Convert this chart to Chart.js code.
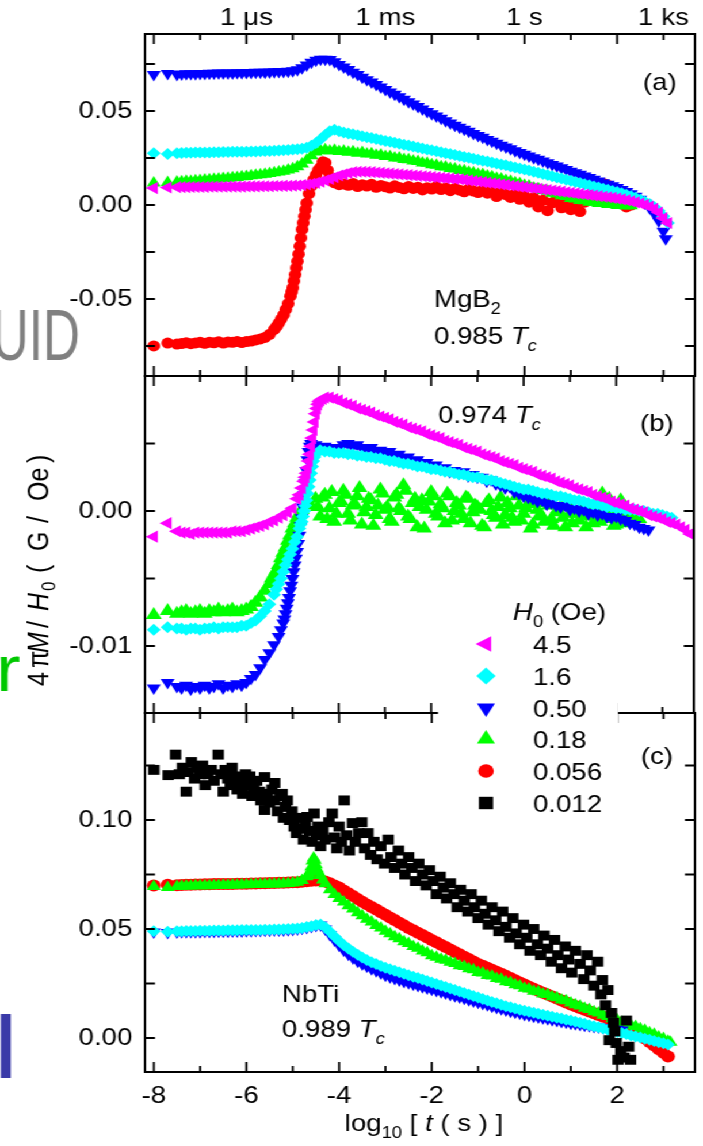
<!DOCTYPE html>
<html><head><meta charset="utf-8">
<script src="https://cdn.jsdelivr.net/npm/chart.js@4.4.1/dist/chart.umd.min.js"></script>
<style>
html,body{margin:0;padding:0;background:#fff;overflow:hidden;width:703px;height:1146px;}
#wrap{position:absolute;left:0;top:0;width:611px;height:1146px;transform:scaleX(1.150573);transform-origin:0 0;}
#wrap canvas{position:absolute;left:0;top:0;}
</style></head>
<body><div id="wrap">
<canvas id="ca" width="611" height="1146"></canvas>
<canvas id="cb" width="611" height="1146"></canvas>
<canvas id="cc" width="611" height="1146"></canvas>
</div>
<script>
// ---------- data ----------
const G = [-8.0,-7.7,-7.5,-7.4,-7.3,-7.2,-7.1,-7.0,
 -6.9,-6.8,-6.7,-6.6,-6.5,-6.4,-6.3,-6.2,-6.1,-6.0,
 -5.9,-5.8,-5.7,-5.6,-5.5,-5.4,-5.3,-5.2,-5.1,-5.0,
 -4.9,-4.8,-4.7,-4.6,-4.5,-4.4,-4.3,-4.2,-4.1,-4.0,
 -3.9,-3.8,-3.7,-3.6,-3.5,-3.4,-3.3,-3.2,-3.1,-3.0,
 -2.9,-2.8,-2.7,-2.6,-2.5,-2.4,-2.3,-2.2,-2.1,-2.0,
 -1.9,-1.8,-1.7,-1.6,-1.5,-1.4,-1.3,-1.2,-1.1,-1.0,
 -0.9,-0.8,-0.7,-0.6,-0.5,-0.4,-0.3,-0.2,-0.1,0.0,
 0.1,0.2,0.3,0.4,0.5,0.6,0.7,0.8,0.9,1.0,
 1.1,1.2,1.3,1.4,1.5,1.6,1.7,1.8,1.9,2.0,
 2.1,2.2,2.3,2.4,2.5,2.6,2.7,2.8,2.9,3.0,
 3.1,3.2,3.3,3.4,3.5,3.6];

const fieldLabels = ['4.5','1.6','0.50','0.18','0.056','0.012'];

// Panel (a) MgB2, 0.985 Tc
const magentaA = [0.0090,0.0093,0.0095,0.0095,0.0095,0.0096,0.0096,0.0096,
 0.0096,0.0097,0.0097,0.0097,0.0097,0.0098,0.0098,0.0098,0.0098,0.0099,
 0.0099,0.0099,0.0100,0.0100,0.0100,0.0101,0.0101,0.0102,0.0102,0.0103,
 0.0104,0.0106,0.0109,0.0113,0.0118,0.0124,0.0131,0.0139,0.0148,0.0157,
 0.0163,0.0170,0.0175,0.0177,0.0177,0.0176,0.0175,0.0173,0.0171,0.0169,
 0.0167,0.0165,0.0163,0.0161,0.0159,0.0157,0.0155,0.0153,0.0151,0.0149,
 0.0147,0.0145,0.0143,0.0141,0.0139,0.0137,0.0134,0.0131,0.0128,0.0125,
 0.0122,0.0119,0.0116,0.0113,0.0110,0.0107,0.0104,0.0101,0.0098,0.0095,
 0.0092,0.0089,0.0086,0.0083,0.0080,0.0077,0.0074,0.0071,0.0068,0.0065,
 0.0062,0.0059,0.0056,0.0053,0.0050,0.0047,0.0044,0.0041,0.0038,0.0034,
 0.0030,0.0025,0.0020,0.0014,0.0008,0.0001,-0.0008,-0.0020,-0.0040,-0.0070,
 -0.0096];
const cyanA = [0.0275,0.0272,0.0276,0.0277,0.0278,0.0278,0.0279,0.0279,
 0.0280,0.0280,0.0281,0.0281,0.0282,0.0282,0.0283,0.0283,0.0284,0.0284,
 0.0285,0.0285,0.0286,0.0287,0.0288,0.0289,0.0290,0.0291,0.0293,0.0295,
 0.0297,0.0300,0.0305,0.0315,0.0330,0.0350,0.0372,0.0392,0.0400,0.0393,
 0.0386,0.0381,0.0376,0.0371,0.0366,0.0361,0.0356,0.0351,0.0346,0.0341,
 0.0336,0.0331,0.0326,0.0321,0.0316,0.0311,0.0306,0.0301,0.0296,0.0291,
 0.0286,0.0281,0.0276,0.0271,0.0266,0.0261,0.0256,0.0251,0.0246,0.0241,
 0.0236,0.0231,0.0226,0.0221,0.0216,0.0211,0.0205,0.0200,0.0194,0.0189,
 0.0183,0.0177,0.0171,0.0165,0.0159,0.0153,0.0147,0.0141,0.0135,0.0129,
 0.0123,0.0117,0.0111,0.0105,0.0099,0.0093,0.0087,0.0081,0.0075,0.0069,
 0.0062,0.0055,0.0047,0.0038,0.0028,0.0017,0.0005,-0.0010,-0.0030,-0.0060,
 -0.0096];
const blueA = [0.0695,0.0700,0.0695,0.0697,0.0698,0.0699,0.0699,0.0700,
 0.0700,0.0701,0.0701,0.0702,0.0702,0.0703,0.0703,0.0704,0.0704,0.0705,
 0.0705,0.0706,0.0707,0.0707,0.0708,0.0709,0.0710,0.0711,0.0712,0.0714,
 0.0720,0.0730,0.0745,0.0760,0.0770,0.0775,0.0776,0.0774,0.0762,0.0748,
 0.0734,0.0721,0.0707,0.0694,0.0680,0.0667,0.0654,0.0641,0.0628,0.0615,
 0.0602,0.0589,0.0576,0.0563,0.0550,0.0537,0.0524,0.0511,0.0498,0.0485,
 0.0473,0.0461,0.0449,0.0437,0.0425,0.0414,0.0403,0.0392,0.0381,0.0370,
 0.0360,0.0349,0.0339,0.0328,0.0318,0.0308,0.0299,0.0289,0.0280,0.0270,
 0.0261,0.0252,0.0243,0.0234,0.0225,0.0216,0.0207,0.0198,0.0189,0.0180,
 0.0171,0.0163,0.0154,0.0146,0.0137,0.0128,0.0119,0.0111,0.0102,0.0093,
 0.0083,0.0072,0.0060,0.0046,0.0030,0.0010,-0.0015,-0.0045,-0.0085,-0.0140];
const blueAExtra = [[3.05,-0.0180]];
const greenA = [0.0117,0.0120,0.0122,0.0124,0.0126,0.0127,0.0129,0.0131,
 0.0133,0.0135,0.0137,0.0139,0.0141,0.0143,0.0145,0.0147,0.0150,0.0152,
 0.0155,0.0158,0.0161,0.0164,0.0167,0.0171,0.0175,0.0180,0.0186,0.0193,
 0.0203,0.0218,0.0238,0.0262,0.0282,0.0290,0.0294,0.0288,0.0291,0.0285,
 0.0287,0.0281,0.0284,0.0276,0.0279,0.0271,0.0273,0.0265,0.0266,0.0258,
 0.0258,0.0250,0.0250,0.0242,0.0241,0.0234,0.0232,0.0224,0.0222,0.0214,
 0.0212,0.0204,0.0202,0.0194,0.0192,0.0184,0.0182,0.0174,0.0172,0.0164,
 0.0162,0.0154,0.0151,0.0142,0.0139,0.0130,0.0127,0.0118,0.0115,0.0105,
 0.0101,0.0091,0.0087,0.0077,0.0073,0.0063,0.0059,0.0049,0.0045,0.0035,
 0.0032,0.0024,0.0022,0.0015,0.0014,0.0008,0.0008,0.0002,0.0003,-0.0002,
 0.0000,-0.0005,-0.0004];
const redA = [-0.0750,-0.0735,-0.0740,-0.0737,-0.0733,-0.0738,-0.0734,-0.0731,
 -0.0736,-0.0730,-0.0733,-0.0728,-0.0735,-0.0729,-0.0731,-0.0726,-0.0732,-0.0727,
 -0.0724,-0.0718,-0.0713,-0.0705,-0.0688,-0.0662,-0.0628,-0.0585,-0.0525,-0.0440,
 -0.0300,-0.0130,0.0010,0.0100,0.0160,0.0200,0.0225,0.0150,0.0118,0.0108,
 0.0112,0.0105,0.0115,0.0098,0.0108,0.0101,0.0110,0.0094,0.0104,0.0097,
 0.0090,0.0102,0.0093,0.0086,0.0099,0.0088,0.0095,0.0080,0.0092,0.0085,
 0.0098,0.0082,0.0090,0.0076,0.0088,0.0079,0.0070,0.0086,0.0074,0.0066,
 0.0080,0.0063,0.0072,0.0045,0.0068,0.0055,0.0040,0.0060,0.0030,0.0048,
 0.0015,0.0038,-0.0010,0.0025,-0.0030,0.0012,0.0030,-0.0015,0.0020,-0.0025,
 0.0008,-0.0035,0.0015,0.0030,0.0060,0.0095,0.0115,0.0105,0.0080,0.0045,
 0.0020,-0.0010,0.0000];
const redAExtra = [[-5.35,-0.0646],[-5.25,-0.0607],[-5.15,-0.0556],[-5.05,-0.0485],[-5.025,-0.0462],
 [-4.975,-0.0405],[-4.95,-0.0370],[-4.925,-0.0335],[-4.875,-0.0262],[-4.85,-0.0220],[-4.825,-0.0175],
 [-4.775,-0.0095],[-4.75,-0.0060],[-4.725,-0.0025],[-4.65,0.0060],[-4.55,0.0135],[-4.45,0.0185],
 [-4.35,0.0230],[-4.25,0.0185]];

// Panel (b) MgB2, 0.974 Tc
const magentaB = [-0.0019,-0.0009,-0.0015,-0.0016,-0.0016,-0.0017,-0.0016,-0.0016,
 -0.0016,-0.0016,-0.0016,-0.0016,-0.0016,-0.0016,-0.0015,-0.0015,-0.0015,-0.0014,
 -0.0013,-0.0012,-0.0011,-0.0010,-0.0008,-0.0007,-0.0005,-0.0003,-0.0001,0.0002,
 0.0009,0.0017,0.0028,0.0048,0.0072,0.0082,0.0084,0.0084,0.0083,0.0082,
 0.0080,0.0079,0.0078,0.0076,0.0075,0.0074,0.0073,0.0071,0.0070,0.0069,
 0.0068,0.0066,0.0065,0.0064,0.0062,0.0061,0.0060,0.0059,0.0057,0.0056,
 0.0055,0.0054,0.0052,0.0051,0.0050,0.0049,0.0047,0.0046,0.0045,0.0044,
 0.0042,0.0041,0.0040,0.0039,0.0037,0.0036,0.0035,0.0034,0.0032,0.0031,
 0.0030,0.0029,0.0027,0.0026,0.0025,0.0024,0.0022,0.0021,0.0020,0.0019,
 0.0017,0.0016,0.0015,0.0014,0.0012,0.0011,0.0010,0.0009,0.0007,0.0006,
 0.0005,0.0004,0.0002,0.0001,0.0000,-0.0001,-0.0003,-0.0004,-0.0005,-0.0006,
 -0.0008,-0.0009,-0.0010,-0.0012,-0.0014,-0.0017];
const magentaBExtra = [[-4.85,0.0012],[-4.75,0.0022],[-4.725,0.0025],[-4.675,0.0032],[-4.65,0.0037],
 [-4.625,0.0042],[-4.575,0.0054],[-4.55,0.0060],[-4.525,0.0066],[-4.475,0.0076],[-4.45,0.0079],
 [-4.425,0.0081],[-4.35,0.0083]];
const cyanB = [-0.0088,-0.0086,-0.0087,-0.0087,-0.0088,-0.0087,-0.0087,-0.0088,
 -0.0087,-0.0087,-0.0086,-0.0087,-0.0086,-0.0086,-0.0086,-0.0086,-0.0085,-0.0085,
 -0.0083,-0.0081,-0.0078,-0.0074,-0.0069,-0.0062,-0.0054,-0.0045,-0.0036,-0.0028,
 -0.0019,-0.0008,0.0008,0.0028,0.0042,0.0045,0.0044,0.0044,0.0043,0.0043,
 0.0043,0.0042,0.0042,0.0041,0.0041,0.0040,0.0040,0.0039,0.0039,0.0038,
 0.0037,0.0037,0.0036,0.0035,0.0035,0.0034,0.0033,0.0033,0.0032,0.0031,
 0.0031,0.0030,0.0029,0.0029,0.0028,0.0027,0.0027,0.0026,0.0025,0.0025,
 0.0024,0.0023,0.0023,0.0022,0.0021,0.0020,0.0019,0.0018,0.0017,0.0016,
 0.0016,0.0015,0.0014,0.0013,0.0013,0.0012,0.0011,0.0011,0.0010,0.0009,
 0.0008,0.0008,0.0007,0.0006,0.0005,0.0005,0.0004,0.0003,0.0003,0.0002,
 0.0002,0.0001,0.0001,0.0001,0.0000,0.0000,-0.0001,-0.0002,-0.0002,-0.0003,
 -0.0004,-0.0005];
const cyanBExtra = [[-5.35,-0.0058],[-5.25,-0.0050],[-5.15,-0.0040],[-5.05,-0.0032],[-4.95,-0.0023],
 [-4.85,-0.0013],[-4.825,-0.0010],[-4.775,-0.0004],[-4.75,0.0000],[-4.725,0.0004],[-4.675,0.0013],
 [-4.65,0.0018],[-4.625,0.0023],[-4.575,0.0033],[-4.55,0.0037],[-4.525,0.0040]];
const blueB = [-0.0131,-0.0127,-0.0130,-0.0131,-0.0129,-0.0132,-0.0130,-0.0131,
 -0.0129,-0.0131,-0.0130,-0.0128,-0.0131,-0.0129,-0.0130,-0.0128,-0.0129,-0.0127,
 -0.0124,-0.0121,-0.0116,-0.0110,-0.0105,-0.0099,-0.0093,-0.0083,-0.0068,-0.0050,
 -0.0030,-0.0005,0.0030,0.0050,0.0049,0.0046,0.0048,0.0045,0.0047,0.0046,
 0.0049,0.0050,0.0048,0.0049,0.0047,0.0046,0.0047,0.0044,0.0045,0.0043,
 0.0044,0.0041,0.0042,0.0039,0.0040,0.0037,0.0038,0.0035,0.0036,0.0033,
 0.0034,0.0031,0.0032,0.0029,0.0030,0.0028,0.0029,0.0026,0.0027,0.0025,
 0.0025,0.0022,0.0023,0.0020,0.0019,0.0017,0.0018,0.0014,0.0013,0.0011,
 0.0010,0.0009,0.0007,0.0008,0.0005,0.0006,0.0004,0.0003,0.0004,0.0001,
 0.0002,0.0000,0.0001,-0.0002,-0.0001,-0.0003,-0.0002,-0.0004,-0.0005,-0.0004,
 -0.0006,-0.0007,-0.0009,-0.0010,-0.0012,-0.0013,-0.0014];
const blueBExtra = [[-5.25,-0.0088],[-5.175,-0.0080],[-5.15,-0.0076],[-5.125,-0.0072],[-5.075,-0.0064],
 [-5.05,-0.0059],[-5.025,-0.0055],[-4.975,-0.0045],[-4.95,-0.0040],[-4.925,-0.0035],[-4.875,-0.0024],
 [-4.85,-0.0018],[-4.825,-0.0011],[-4.775,0.0003],[-4.75,0.0012],[-4.725,0.0021],[-4.675,0.0038],
 [-4.65,0.0044],[-4.625,0.0048]];
const greenB = [-0.0077,-0.0074,-0.0076,-0.0075,-0.0074,-0.0076,-0.0075,-0.0074,
 -0.0076,-0.0074,-0.0075,-0.0073,-0.0075,-0.0074,-0.0073,-0.0075,-0.0074,-0.0073,
 -0.0071,-0.0068,-0.0064,-0.0059,-0.0054,-0.0047,-0.0040,-0.0031,-0.0022,-0.0013,
 -0.0005,0.0001,0.0005,0.0004,0.0009,-0.0004,0.0012,0.0002,-0.0008,0.0006,
 0.0015,-0.0002,0.0004,0.0011,-0.0010,0.0003,0.0008,-0.0003,0.0016,0.0001,
 -0.0006,0.0010,0.0002,0.0019,-0.0004,0.0006,-0.0012,0.0008,0.0001,0.0014,
 -0.0002,0.0005,-0.0009,0.0011,0.0000,0.0004,-0.0006,0.0009,-0.0001,0.0003,
 -0.0011,0.0006,0.0000,-0.0005,0.0010,-0.0003,0.0002,-0.0008,0.0004,-0.0002,
 0.0005,-0.0010,0.0001,-0.0004,0.0007,-0.0006,-0.0001,0.0003,-0.0012,-0.0002,
 0.0001,-0.0007,-0.0003,0.0004,-0.0009,-0.0004,0.0013,-0.0006,-0.0002,-0.0010,
 0.0008,-0.0005,-0.0008,-0.0003,-0.0006];
const greenBExtra = [[-5.45,-0.0050],[-5.35,-0.0044],[-5.25,-0.0035],[-5.15,-0.0027],[-5.05,-0.0018],
 [-4.95,-0.0009],[-4.85,-0.0002]];
const greenBMid = [[-4.45,0.0003],[-4.35,0.0010],[-4.25,-0.0006],[-4.15,0.0014],[-4.05,-0.0002],
 [-3.95,0.0007],[-3.85,0.0012],[-3.75,-0.0007],[-3.65,0.0005],[-3.55,0.0017],[-3.45,-0.0001],
 [-3.35,0.0009],[-3.25,-0.0011],[-3.15,0.0004],[-3.05,0.0013],[-2.95,0.0003],[-2.85,-0.0008],
 [-2.75,0.0012],[-2.65,0.0000],[-2.55,0.0015],[-2.45,-0.0006],[-2.35,0.0009],[-2.25,0.0003],
 [-2.15,-0.0013],[-2.05,0.0007],[-1.95,0.0011],[-1.85,-0.0004],[-1.75,0.0002],[-1.65,0.0013],
 [-1.55,-0.0007],[-1.45,0.0006],[-1.35,-0.0002],[-1.25,0.0010],[-1.15,-0.0009],[-1.05,0.0004],
 [-0.95,0.0001],[-0.85,-0.0012],[-0.75,0.0008],[-0.65,-0.0003],[-0.55,0.0003],[-0.45,-0.0010],
 [-0.35,0.0006],[-0.25,-0.0005],[-0.15,0.0011],[-0.05,-0.0007],[0.05,0.0002],[0.15,-0.0013],
 [0.25,0.0006],[0.35,-0.0003],[0.45,-0.0008],[0.55,0.0004],[0.65,-0.0011],[0.75,0.0000],
 [0.85,-0.0005],[0.95,0.0006],[1.05,-0.0009],[1.15,-0.0002],[1.25,0.0003],[1.35,-0.0012],
 [1.45,-0.0004],[1.55,0.0002],[1.65,-0.0008],[1.75,-0.0003],[1.85,0.0009],[1.95,-0.0011],
 [2.05,-0.0004],[2.15,0.0001],[2.25,-0.0009],[2.35,-0.0002]];

// Panel (c) NbTi, 0.989 Tc
const cyanC = [0.0490,0.0488,0.0490,0.0490,0.0491,0.0491,0.0491,0.0492,
 0.0492,0.0492,0.0493,0.0493,0.0493,0.0494,0.0494,0.0494,0.0495,0.0495,
 0.0495,0.0496,0.0496,0.0497,0.0497,0.0498,0.0498,0.0499,0.0500,0.0501,
 0.0502,0.0505,0.0509,0.0513,0.0518,0.0521,0.0508,0.0488,0.0466,0.0445,
 0.0427,0.0411,0.0396,0.0382,0.0369,0.0358,0.0348,0.0339,0.0330,0.0322,
 0.0315,0.0308,0.0302,0.0295,0.0288,0.0281,0.0275,0.0268,0.0262,0.0255,
 0.0248,0.0241,0.0234,0.0227,0.0220,0.0213,0.0206,0.0200,0.0193,0.0186,
 0.0179,0.0172,0.0165,0.0159,0.0152,0.0146,0.0141,0.0135,0.0130,0.0125,
 0.0120,0.0116,0.0111,0.0107,0.0102,0.0098,0.0093,0.0089,0.0084,0.0080,
 0.0075,0.0070,0.0065,0.0059,0.0054,0.0049,0.0044,0.0038,0.0033,0.0028,
 0.0023,0.0018,0.0012,0.0007,0.0002,-0.0003,-0.0008,-0.0014,-0.0019,-0.0024,
 -0.0030];
const blueC = [0.0486,0.0484,0.0486,0.0487,0.0487,0.0488,0.0488,0.0488,
 0.0489,0.0489,0.0489,0.0490,0.0490,0.0490,0.0491,0.0491,0.0491,0.0492,
 0.0492,0.0493,0.0493,0.0494,0.0494,0.0495,0.0495,0.0496,0.0497,0.0498,
 0.0500,0.0503,0.0507,0.0511,0.0516,0.0518,0.0500,0.0475,0.0450,0.0425,
 0.0403,0.0384,0.0367,0.0352,0.0340,0.0329,0.0318,0.0308,0.0298,0.0288,
 0.0280,0.0273,0.0266,0.0259,0.0253,0.0247,0.0241,0.0235,0.0229,0.0224,
 0.0218,0.0212,0.0206,0.0200,0.0194,0.0188,0.0182,0.0176,0.0170,0.0164,
 0.0158,0.0152,0.0146,0.0140,0.0134,0.0128,0.0123,0.0118,0.0113,0.0108,
 0.0104,0.0100,0.0096,0.0092,0.0088,0.0084,0.0080,0.0076,0.0072,0.0068,
 0.0065,0.0062,0.0059,0.0056,0.0053,0.0050,0.0047,0.0044,0.0042,0.0040,
 0.0037];
const greenC = [0.0695,0.0690,0.0695,0.0696,0.0697,0.0697,0.0698,0.0698,
 0.0699,0.0699,0.0700,0.0700,0.0701,0.0701,0.0702,0.0702,0.0703,0.0703,
 0.0704,0.0704,0.0705,0.0705,0.0706,0.0706,0.0707,0.0708,0.0709,0.0711,
 0.0714,0.0722,0.0740,0.0785,0.0795,0.0745,0.0708,0.0680,0.0658,0.0640,
 0.0624,0.0607,0.0592,0.0575,0.0561,0.0545,0.0532,0.0516,0.0505,0.0490,
 0.0478,0.0464,0.0455,0.0441,0.0433,0.0420,0.0412,0.0399,0.0391,0.0377,
 0.0371,0.0361,0.0357,0.0347,0.0342,0.0332,0.0328,0.0318,0.0313,0.0300,
 0.0298,0.0287,0.0284,0.0273,0.0269,0.0258,0.0255,0.0244,0.0240,0.0228,
 0.0225,0.0215,0.0212,0.0202,0.0199,0.0189,0.0185,0.0174,0.0171,0.0160,
 0.0152,0.0147,0.0136,0.0131,0.0120,0.0115,0.0104,0.0099,0.0088,0.0083,
 0.0072,0.0068,0.0057,0.0053,0.0042,0.0036,0.0024,0.0017,0.0005,-0.0002,
 -0.0015];
const greenCExtra = [[-4.675,0.0745],[-4.65,0.0752],[-4.625,0.0765],[-4.575,0.0812],[-4.55,0.0826],
 [-4.525,0.0815],[-4.475,0.0775],[-4.45,0.0760],[-4.35,0.0725],[3.15,-0.0020]];
const redC = [0.0700,0.0703,0.0701,0.0702,0.0703,0.0703,0.0704,0.0704,
 0.0705,0.0705,0.0706,0.0706,0.0706,0.0707,0.0707,0.0708,0.0708,0.0708,
 0.0709,0.0709,0.0710,0.0710,0.0711,0.0711,0.0712,0.0712,0.0713,0.0714,
 0.0715,0.0717,0.0719,0.0721,0.0722,0.0722,0.0718,0.0710,0.0700,0.0690,
 0.0677,0.0664,0.0651,0.0638,0.0625,0.0613,0.0601,0.0589,0.0577,0.0565,
 0.0553,0.0541,0.0529,0.0517,0.0505,0.0494,0.0483,0.0472,0.0461,0.0450,
 0.0439,0.0428,0.0417,0.0406,0.0395,0.0384,0.0373,0.0362,0.0351,0.0340,
 0.0331,0.0322,0.0313,0.0304,0.0295,0.0285,0.0275,0.0265,0.0255,0.0245,
 0.0235,0.0226,0.0217,0.0208,0.0199,0.0190,0.0181,0.0172,0.0163,0.0154,
 0.0146,0.0138,0.0130,0.0122,0.0114,0.0106,0.0098,0.0090,0.0081,0.0072,
 0.0062,0.0051,0.0039,0.0026,0.0012,-0.0002,-0.0018,-0.0035,-0.0052,-0.0068,
 -0.0085];
const blackC = [[-8.00,0.123],[-7.69,0.1206],[-7.53,0.130],[-7.45,0.121],[-7.38,0.124],[-7.30,0.113],
 [-7.25,0.122],[-7.19,0.1266],[-7.12,0.119],[-7.07,0.124],[-7.00,0.121],[-6.95,0.125],[-6.89,0.116],
 [-6.83,0.121],[-6.76,0.123],[-6.70,0.118],[-6.61,0.130],[-6.55,0.121],[-6.50,0.113],[-6.46,0.123],
 [-6.40,0.119],[-6.35,0.116],[-6.31,0.124],[-6.25,0.120],[-6.20,0.114],[-6.15,0.118],[-6.08,0.112],
 [-6.02,0.121],[-5.97,0.116],[-5.93,0.120],[-5.88,0.111],[-5.84,0.115],[-5.78,0.118],[-5.72,0.113],
 [-5.69,0.109],[-5.61,0.1197],[-5.61,0.1046],[-5.55,0.112],[-5.50,0.108],[-5.45,0.114],[-5.39,0.117],
 [-5.39,0.109],[-5.33,0.104],[-5.28,0.111],[-5.23,0.112],[-5.20,0.101],[-5.16,0.106],[-5.12,0.109],
 [-5.07,0.100],[-5.02,0.104],[-4.97,0.097],[-4.92,0.094],[-4.87,0.101],[-4.82,0.096],[-4.77,0.091],
 [-4.73,0.099],[-4.69,0.1014],[-4.64,0.095],[-4.58,0.090],[-4.54,0.103],[-4.50,0.093],[-4.46,0.097],
 [-4.40,0.088],[-4.35,0.095],[-4.30,0.091],[-4.22,0.099],[-4.15,0.103],[-4.10,0.092],[-4.05,0.087],
 [-4.00,0.097],[-3.95,0.090],[-3.89,0.109],[-3.84,0.093],[-3.78,0.086],[-3.71,0.0986],[-3.65,0.090],
 [-3.58,0.094],[-3.51,0.099],[-3.45,0.087],[-3.38,0.094],[-3.32,0.084],[-3.25,0.090],[-3.18,0.082],
 [-3.10,0.088],[-3.02,0.080],[-2.94,0.091],[-2.88,0.083],[-2.80,0.078],[-2.72,0.086],[-2.65,0.080],
 [-2.58,0.075],[-2.50,0.083],[-2.43,0.078],[-2.35,0.072],[-2.28,0.080],[-2.20,0.075],[-2.12,0.070],
 [-2.05,0.077],[-1.97,0.072],[-1.90,0.066],[-1.82,0.074],[-1.75,0.069],[-1.68,0.064],[-1.60,0.071],
 [-1.52,0.066],[-1.45,0.060],[-1.38,0.068],[-1.30,0.063],[-1.22,0.058],[-1.15,0.066],[-1.08,0.060],
 [-1.00,0.055],[-0.93,0.063],[-0.85,0.057],[-0.78,0.052],[-0.70,0.060],[-0.62,0.054],[-0.55,0.049],
 [-0.47,0.058],[-0.40,0.051],[-0.32,0.046],[-0.25,0.055],[-0.18,0.048],[-0.10,0.043],[-0.02,0.052],
 [0.05,0.046],[0.12,0.040],[0.20,0.050],[0.28,0.043],[0.35,0.038],[0.42,0.047],[0.50,0.041],
 [0.58,0.035],[0.65,0.045],[0.72,0.038],[0.80,0.032],[0.88,0.042],[0.95,0.036],[1.02,0.030],
 [1.10,0.040],[1.20,0.034],[1.28,0.027],[1.35,0.038],[1.42,0.031],[1.50,0.024],[1.58,0.035],
 [1.65,0.020],[1.68,0.0266],[1.75,0.015],[1.80,0.022],[1.83,-0.001],[1.88,0.0115],[1.92,0.007],
 [1.95,0.003],[1.98,-0.0023],[2.02,-0.010],[2.08,-0.006],[2.15,-0.009],[2.20,0.008],[2.25,-0.004],
 [2.29,-0.010]];

// axes
const xRange = [-8.19, 3.68];
const xMajor = [-8,-6,-4,-2,0,2];
const xMinor = [-7,-5,-3,-1,1,3];
const topVals = [-6,-3,0,3];
const topNames = ['1 \u03bcs','1 ms','1 s','1 ks'];
const yRangeA = [-0.091, 0.091], yTicksA = [-0.075,-0.05,-0.025,0,0.025,0.05,0.075], yLabA = [-0.05,0,0.05];
const yRangeB = [-0.01496, 0.0100], yTicksB = [-0.01,-0.005,0,0.005], yLabB = [-0.01,0];
const yRangeC = [-0.0156, 0.1491], yTicksC = [0,0.025,0.05,0.075,0.1,0.125], yLabC = [0,0.05,0.1];

// ---------- layout helpers ----------
const S = 703/611;
const px = v => v / S;
const FF = '"Liberation Sans", Arial, Helvetica, sans-serif';
Chart.defaults.font.family = FF;
Chart.defaults.font.size = 24;
Chart.defaults.color = '#000';

function pts(grid, ys, extra){
  const out = [];
  ys.forEach((v,i) => { if (v !== null && v !== undefined) out.push({x: grid[i], y: v}); });
  if (extra) extra.forEach(p => out.push({x: p[0], y: p[1]}));
  out.sort((a,b) => a.x - b.x);
  return out;
}
function ds(data, style, color, r, rot){
  return {data, showLine:false, pointStyle:style, pointRotation:rot||0, pointRadius:r, pointHoverRadius:r,
    pointBackgroundColor:color, pointBorderColor:color, pointBorderWidth:0};
}
function rich(ctx, x, y, parts, measureOnly){
  let cx = x;
  for (const p of parts){
    const t = p[0], st = p[1] || '';
    const sub = st.includes('s'), it = st.includes('i');
    ctx.font = (it ? 'italic ' : '') + (sub ? 16 : 24) + 'px ' + FF;
    if (!measureOnly) ctx.fillText(t, cx, y + (sub ? 7 : 0));
    cx += ctx.measureText(t).width;
  }
  return cx - x;
}
function frameTicks(yMinor){
  return { id:'frameTicks', afterDraw(chart){
    const ctx = chart.ctx, a = chart.chartArea, x = chart.scales.x, y = chart.scales.y;
    ctx.save(); ctx.strokeStyle = '#000';
    ctx.lineWidth = 1.8;
    const xt = (list, len) => list.forEach(v => { const X = x.getPixelForValue(v);
      ctx.beginPath(); ctx.moveTo(X, a.bottom); ctx.lineTo(X, a.bottom - len);
      ctx.moveTo(X, a.top); ctx.lineTo(X, a.top + len); ctx.stroke(); });
    xt(xMajor, 10); xt(xMinor, 6);
    ctx.lineWidth = 2;
    yMinor.forEach(v => { const Y = y.getPixelForValue(v);
      ctx.beginPath(); ctx.moveTo(a.left, Y); ctx.lineTo(a.left + px(10), Y);
      ctx.moveTo(a.right, Y); ctx.lineTo(a.right - px(10), Y); ctx.stroke(); });
    ctx.strokeRect(a.left, a.top, a.right - a.left, a.bottom - a.top);
    ctx.restore();
  }};
}
function yScale(range, labs){
  return { type:'linear', min:range[0], max:range[1], position:'left',
    grid:{display:false, drawTicks:false}, border:{display:false},
    afterBuildTicks: s => { s.ticks = labs.map(v => ({value:v})); },
    afterFit: s => { s.width = px(145); },
    ticks:{ padding:11, font:{size:24}, color:'#000', callback: v => Number(v).toFixed(2) } };
}
function xHidden(){
  return { type:'linear', min:xRange[0], max:xRange[1], display:false };
}
const baseOpts = { responsive:false, animation:false, devicePixelRatio:1, events:[],
  plugins:{ legend:{display:false}, tooltip:{enabled:false} } };

function drawMarker(ctx, kind, x, y){
  ctx.beginPath();
  if (kind === 'triL'){ const r = 9; ctx.moveTo(x - r, y); ctx.lineTo(x + r/2, y - r*0.866); ctx.lineTo(x + r/2, y + r*0.866); }
  else if (kind === 'dia'){ const r = 8.4; ctx.moveTo(x, y - r); ctx.lineTo(x + r, y); ctx.lineTo(x, y + r); ctx.lineTo(x - r, y); }
  else if (kind === 'triD'){ const r = 9; ctx.moveTo(x, y + r); ctx.lineTo(x + r*0.866, y - r/2); ctx.lineTo(x - r*0.866, y - r/2); }
  else if (kind === 'triU'){ const r = 9; ctx.moveTo(x, y - r); ctx.lineTo(x + r*0.866, y + r/2); ctx.lineTo(x - r*0.866, y + r/2); }
  else if (kind === 'circ'){ ctx.arc(x, y, 6.8, 0, Math.PI*2); }
  else { ctx.rect(x - 6.2, y - 6.2, 12.4, 12.4); }
  ctx.closePath(); ctx.fill();
}

// ---------- panel (a) ----------
new Chart(document.getElementById('ca'), {
  type:'scatter',
  data:{ datasets:[
    ds(pts(G, magentaA), 'triangle', '#ff00ff', 7, 270),
    ds(pts(G, cyanA), 'rectRot', '#00ffff', 6),
    ds(pts(G, blueA, blueAExtra), 'triangle', '#0000ff', 7, 180),
    ds(pts(G, greenA), 'triangle', '#00ff00', 7),
    ds(pts(G, redA, redAExtra), 'circle', '#ff0000', 5.5)
  ]},
  options: Object.assign({}, baseOpts, {
    layout:{ padding:{ top:0, bottom:1146-376, left:0, right:611 - px(701) } },
    scales:{
      x: xHidden(),
      x2:{ type:'linear', min:xRange[0], max:xRange[1], position:'top',
        grid:{display:false, drawTicks:false}, border:{display:false},
        afterBuildTicks: s => { s.ticks = topVals.map(v => ({value:v})); },
        afterFit: s => { s.height = 34; },
        ticks:{ padding:1, autoSkip:false, maxRotation:0, font:{size:24}, color:'#000',
          callback: v => topNames[topVals.indexOf(v)] } },
      y: yScale(yRangeA, yLabA)
    }
  }),
  plugins:[frameTicks(yTicksA), { id:'annA', afterDraw(chart){
    const ctx = chart.ctx; ctx.save(); ctx.fillStyle = '#000'; ctx.textBaseline = 'alphabetic';
    rich(ctx, px(643), 90, [['(a)']]);
    rich(ctx, px(434), 307, [['MgB'],['2','s']]);
    rich(ctx, px(434), 344, [['0.985 '],['T','i'],['c','si']]);
    // fragments of a neighbouring figure at the left edge
    ctx.save();
    ctx.fillStyle = '#808080'; ctx.font = '72px ' + FF; ctx.textAlign = 'right';
    ctx.scale(0.62, 1);
    ctx.fillText('SQUID', px(80) / 0.62, 360);
    ctx.restore();
    ctx.textAlign = 'left'; ctx.fillStyle = '#00c800'; ctx.font = '64px ' + FF;
    ctx.fillText('r', px(-4), 691);
    ctx.fillStyle = '#3a3aa8'; ctx.font = '92px ' + FF;
    ctx.fillText('I', px(-9), 1078);
    // y-axis title (rotated)
    ctx.fillStyle = '#000';
    ctx.translate(px(48), 685); ctx.rotate(-Math.PI/2);
    const pieces = [['4',0,''],['\u03c0',18,''],['M',33,'i'],['/',58,''],['H',75,'i'],['0',95,'s'],
      ['(',113,''],['G',135,''],['/',163,''],['Oe',185,''],[')',223,'']];
    pieces.forEach(p => {
      const sub = p[2] === 's';
      ctx.font = (p[2] === 'i' ? 'italic ' : '') + (sub ? 17 : 25) + 'px ' + FF;
      ctx.fillText(p[0], p[1] - 1, sub ? 6 : 0);
    });
    ctx.restore();
  }}]
});

// ---------- panel (b) ----------
new Chart(document.getElementById('cb'), {
  type:'scatter',
  data:{ datasets:[
    ds(pts(G, magentaB, magentaBExtra), 'triangle', '#ff00ff', 7, 270),
    ds(pts(G, cyanB, cyanBExtra), 'rectRot', '#00ffff', 6),
    ds(pts(G, blueB, blueBExtra), 'triangle', '#0000ff', 7, 180),
    ds(pts(G, greenB, greenBExtra.concat(greenBMid)), 'triangle', '#00ff00', 8)
  ]},
  options: Object.assign({}, baseOpts, {
    layout:{ padding:{ top:376, bottom:1146-713, left:0, right:611 - px(701) } },
    scales:{ x: xHidden(), y: yScale(yRangeB, yLabB) }
  }),
  plugins:[frameTicks(yTicksB), { id:'annB', afterDraw(chart){
    const ctx = chart.ctx; ctx.save(); ctx.fillStyle = '#000';
    rich(ctx, px(438), 423, [['0.974 '],['T','i'],['c','si']]);
    rich(ctx, px(640), 431, [['(b)']]);
    ctx.restore();
  }}]
});

// ---------- panel (c) ----------
const legendKinds = ['triL','dia','triD','triU','circ','sq'];
const legendColors = ['#ff00ff','#00ffff','#0000ff','#00ff00','#ff0000','#000000'];
const legendY = [644,676,708,739,771,803];
new Chart(document.getElementById('cc'), {
  type:'scatter',
  data:{ datasets:[
    ds(blackC.map(p => ({x:p[0], y:p[1]})), 'rect', '#000000', 7),
    ds(pts(G, cyanC), 'rectRot', '#00ffff', 6),
    ds(pts(G, blueC), 'triangle', '#0000ff', 7, 180),
    ds(pts(G, greenC, greenCExtra), 'triangle', '#00ff00', 7),
    ds(pts(G, redC), 'circle', '#ff0000', 6)
  ]},
  options: Object.assign({}, baseOpts, {
    layout:{ padding:{ top:713, bottom:0, left:0, right:611 - px(701) } },
    scales:{
      x:{ type:'linear', min:xRange[0], max:xRange[1], position:'bottom',
        grid:{display:false, drawTicks:false}, border:{display:false},
        afterBuildTicks: s => { s.ticks = xMajor.map(v => ({value:v})); },
        afterFit: s => { s.height = 1146 - 1072; },
        ticks:{ padding:10, autoSkip:false, maxRotation:0, font:{size:24}, color:'#000',
          callback: v => String(v) } },
      y: yScale(yRangeC, yLabC)
    }
  }),
  plugins:[frameTicks(yTicksC), { id:'annC', afterDraw(chart){
    const ctx = chart.ctx; ctx.save(); ctx.fillStyle = '#000';
    rich(ctx, px(641), 764, [['(c)']]);
    rich(ctx, px(282), 1002, [['NbTi']]);
    rich(ctx, px(282), 1037, [['0.989 '],['T','i'],['c','si']]);
    const title = [['log'],['10','s'],[' [ '],['t','i'],[' ( s ) ]']];
    const w = rich(ctx, 0, 0, title, true);
    rich(ctx, px(424) - w/2, 1131, title);
    // legend
    ctx.fillStyle = '#fff';
    ctx.fillRect(px(438), 590, px(618) - px(438), 230);
    ctx.fillStyle = '#000';
    rich(ctx, px(513), 620, [['H','i'],['0','s'],[' (Oe)']]);
    legendKinds.forEach((k, i) => {
      ctx.fillStyle = legendColors[i];
      drawMarker(ctx, k, px(486), legendY[i]);
      ctx.fillStyle = '#000'; ctx.font = '24px ' + FF;
      ctx.fillText(fieldLabels[i], px(533), legendY[i] + 8.5);
    });
    ctx.restore();
  }}]
});
</script>
</body></html>
